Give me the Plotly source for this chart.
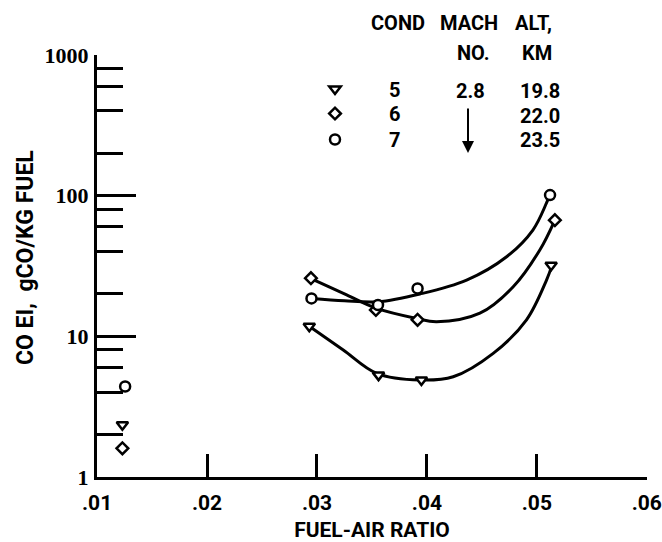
import plotly.graph_objects as go

# ---- data ----
cond = ["5", "6", "7"]
mach = ["2.8", "", ""]
alt_km = ["19.8", "22.0", "23.5"]

# measured points (fuel-air ratio, CO EI)
c5_x = [0.0123, 0.0293, 0.0356, 0.0395, 0.0513]
c5_y = [2.35, 11.8, 5.3, 4.9, 32.0]
c6_x = [0.0123, 0.02945, 0.03536, 0.03915, 0.05164]
c6_y = [1.6, 25.9, 15.4, 13.1, 67.0]
c7_x = [0.01255, 0.0295, 0.03555, 0.03915, 0.0512]
c7_y = [4.4, 18.6, 16.7, 21.9, 101.0]

# faired curves, points
f5_x = [0.02936, 0.03239, 0.03543, 0.03936, 0.04239, 0.04603, 0.04906, 0.05088, 0.05134]
f5_y = [11.7, 8.0, 5.46, 4.89, 5.16, 7.57, 13.1, 25.1, 31.3]
f6_x = [0.02936, 0.0327, 0.03543, 0.03906, 0.04088, 0.04482, 0.04785, 0.05027, 0.0516]
f6_y = [25.9, 19.7, 15.8, 13.4, 12.7, 14.6, 22.5, 41.1, 66.0]
f7_x = [0.02952, 0.0325, 0.03555, 0.03936, 0.04361, 0.04725, 0.04964, 0.05088, 0.05118]
f7_y = [18.6, 17.9, 17.6, 20.0, 25.1, 36.8, 57.0, 88.7, 101.0]

x_ticks = [0.01, 0.02, 0.03, 0.04, 0.05, 0.06]
x_tick_text = [".01", ".02", ".03", ".04", ".05", ".06"]
y_ticks = [1, 10, 100, 1000]
y_tick_text = ["1", "10", "100", "1000"]
y_minor = [2, 4, 6, 8, 20, 40, 60, 80, 200, 400, 600, 800]

FONT = "Roboto, DejaVu Sans Condensed, sans-serif"
SERIF = "Liberation Serif, DejaVu Serif, serif"
INK = "black"

fig = go.Figure()

for fx, fy in [(f5_x, f5_y), (f6_x, f6_y), (f7_x, f7_y)]:
    fig.add_trace(go.Scatter(x=fx, y=fy, mode="lines", showlegend=False,
                             line=dict(color=INK, width=3, shape="spline", smoothing=1.0),
                             hoverinfo="skip"))

symbols = ["triangle-down", "diamond", "circle"]
sizes = [10, 9, 10]
legend_ids = ["legend", "legend2", "legend3"]
for name, xs, ys, sym, sz, lg in zip(cond, [c5_x, c6_x, c7_x], [c5_y, c6_y, c7_y],
                                      symbols, sizes, legend_ids):
    fig.add_trace(go.Scatter(x=xs, y=ys, mode="markers", name=name, legend=lg,
                             marker=dict(symbol=sym, size=sz, color="white",
                                         line=dict(color=INK, width=2.5))))

def px2x(p):
    return (p - 97) / 550.0

def py2y(p):
    return (477 - p) / 422.0

ann = []
hdr = dict(font=dict(family=FONT, size=20, color=INK, weight="bold"), showarrow=False,
           xref="paper", yref="paper", xanchor="center", yanchor="middle")
ann.append(dict(text="COND", x=px2x(398), y=py2y(23), **hdr))
ann.append(dict(text="MACH", x=px2x(469), y=py2y(23), **hdr))
ann.append(dict(text="ALT,", x=px2x(533), y=py2y(23), **hdr))
ann.append(dict(text="NO.", x=px2x(473), y=py2y(52.5), **hdr))
ann.append(dict(text="KM", x=px2x(537), y=py2y(52.5), **hdr))
row_y = [90.8, 116, 139.5]
for m, a, ry in zip(mach, alt_km, row_y):
    if m:
        ann.append(dict(text=m, x=px2x(470), y=py2y(ry), **hdr))
    ann.append(dict(text=a, x=px2x(540), y=py2y(ry), **hdr))
# arrow under the Mach number
ann.append(dict(text="", x=px2x(468), y=py2y(153), xref="paper", yref="paper",
                showarrow=True, ax=0, ay=-46, arrowhead=2, arrowsize=1.2,
                arrowwidth=2, arrowcolor=INK))
# y-axis title
ann.append(dict(text="CO EI,\u00a0 gCO/KG FUEL", x=px2x(25), y=py2y(258), xref="paper", yref="paper",
                textangle=-90, showarrow=False, xanchor="center", yanchor="middle",
                font=dict(family=FONT, size=23, color=INK, weight="bold")))

legend_style = dict(xanchor="left", yanchor="top", bgcolor="rgba(0,0,0,0)", itemwidth=98,
                    font=dict(family=FONT, size=20, color=INK, weight="bold"))
legend_tops = [69.5, 94, 120]

fig.update_layout(
    width=662, height=542,
    margin=dict(l=97, r=15, t=55, b=65, autoexpand=False),
    paper_bgcolor="white", plot_bgcolor="white",
    annotations=ann,
    showlegend=True,
    legend=dict(x=px2x(281), y=py2y(legend_tops[0]), **legend_style),
    legend2=dict(x=px2x(281), y=py2y(legend_tops[1]), **legend_style),
    legend3=dict(x=px2x(281), y=py2y(legend_tops[2]), **legend_style),
    xaxis=dict(range=[0.00999, 0.06002], tickvals=x_ticks, ticktext=x_tick_text,
               automargin=False,
               ticks="inside", ticklen=23, tickwidth=2.5, tickcolor=INK,
               showline=True, linewidth=3, linecolor=INK, showgrid=False, zeroline=False,
               ticklabelstandoff=5,
               tickfont=dict(family=FONT, size=21, color=INK, weight="bold"),
               title=dict(text="FUEL-AIR RATIO", standoff=10,
                          font=dict(family=FONT, size=21, color=INK, weight="bold"))),
    yaxis=dict(type="log", range=[0, 3], tickvals=y_ticks, ticktext=y_tick_text,
               automargin=False,
               ticks="inside", ticklen=39, tickwidth=3, tickcolor=INK,
               minor=dict(tickvals=y_minor, ticks="inside", ticklen=26, tickwidth=3, tickcolor=INK,
                          showgrid=False),
               showline=True, linewidth=3, linecolor=INK, showgrid=False, zeroline=False,
               ticklabelstandoff=1,
               tickfont=dict(family=SERIF, size=22, color=INK, weight="bold")),
)

fig.write_html("out.html")
